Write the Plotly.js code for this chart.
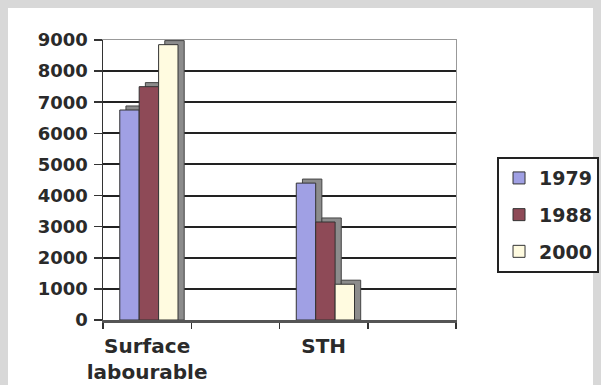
<!DOCTYPE html>
<html>
<head>
<meta charset="utf-8">
<script src="https://cdn.plot.ly/plotly-3.0.1.min.js"></script>
<style>
  html, body { margin: 0; padding: 0; width: 601px; height: 385px; background: #d8d8d8; overflow: hidden; }
  #sheet { position: absolute; left: 8px; top: 8px; width: 585px; height: 377px; background: #ffffff; }
  #chart { position: absolute; left: 0; top: 0; width: 601px; height: 385px; }
</style>
</head>
<body>
<div id="sheet"></div>
<div id="chart"></div>
<script>
// ---- data ----
const categories = ["Surface<br>labourable", " ", "STH", "  "];
const seriesNames = ["1979", "1988", "2000"];
const values1979 = [6750, null, 4400, null];
const values1988 = [7500, null, 3150, null];
const values2000 = [8850, null, 1150, null];
const yTickValues = [0, 1000, 2000, 3000, 4000, 5000, 6000, 7000, 8000, 9000];

// ---- style ----
const colors = ["#a0a0e4", "#8e4a57", "#fffbe0"];
const offsets = [-0.31, -0.09, 0.13];
const barWidth = 0.22;
const depthX = 0.07, depthY = 130;
const font = "DejaVu Sans, Arial, sans-serif";
const ink = "#2a2a2a";
const yMax = yTickValues[yTickValues.length - 1];

const seriesValues = [values1979, values1988, values2000];

const shadows = seriesValues.map((vals, i) => ({
  type: "bar",
  x: categories,
  y: vals.map(v => v === null ? null : v + depthY),
  offset: offsets[i] + depthX,
  width: barWidth,
  marker: { color: "#8c8c8c", line: { color: "#444", width: 1 } },
  showlegend: false,
  hoverinfo: "skip"
}));

const fronts = seriesValues.map((vals, i) => ({
  type: "bar",
  name: seriesNames[i],
  x: categories,
  y: vals,
  offset: offsets[i],
  width: barWidth,
  legendgroup: "g" + i,
  marker: { color: colors[i], line: { color: "#333", width: 1 } }
}));

// invisible trace on secondary axes (inner gridlines + thin wall borders)
const wall = {
  type: "scatter", x: [0], y: [0], xaxis: "x2", yaxis: "y2",
  mode: "markers", marker: { opacity: 0 }, showlegend: false, hoverinfo: "skip"
};

const layout = {
  width: 601, height: 385,
  margin: { l: 103, r: 145, t: 40, b: 65 },
  paper_bgcolor: "rgba(0,0,0,0)",
  plot_bgcolor: "rgba(0,0,0,0)",
  barmode: "overlay",
  font: { family: font, color: ink, size: 18, weight: "bold" },
  xaxis: {
    type: "category",
    categoryorder: "array",
    categoryarray: categories,
    range: [-0.5, categories.length - 0.5],
    tickson: "boundaries",
    tickangle: 0,
    ticks: "outside", ticklen: 6, tickwidth: 1.5, tickcolor: "#333",
    showline: true, linecolor: "#555", linewidth: 3,
    showgrid: false,
    ticklabelstandoff: 6,
    tickfont: { family: font, size: 20, color: ink, weight: "bold" }
  },
  yaxis: {
    range: [0, yMax],
    tickvals: yTickValues,
    ticks: "outside", ticklen: 8, tickwidth: 1.5, tickcolor: "#333",
    showline: true, linecolor: "#333", linewidth: 1.5,
    showgrid: false,
    zeroline: false,
    ticklabelstandoff: 2,
    tickfont: { family: font, size: 18, color: ink, weight: "bold" }
  },
  xaxis2: { overlaying: "x", side: "top", showline: true, linecolor: "#999", linewidth: 1,
            showticklabels: false, ticks: "", showgrid: false, zeroline: false, range: [0, 1] },
  yaxis2: { overlaying: "y", side: "right", showline: true, linecolor: "#999", linewidth: 1,
            range: [0, yMax],
            tickvals: yTickValues.filter(v => v > 0 && v < yMax),
            showticklabels: false, ticks: "",
            showgrid: true, gridcolor: "#222", gridwidth: 2, zeroline: false },
  legend: {
    xref: "container", yref: "container",
    x: 0.9967, xanchor: "right",
    y: 0.592, yanchor: "top",
    bgcolor: "#ffffff",
    bordercolor: "#222", borderwidth: 2,
    traceorder: "grouped",
    tracegroupgap: 9,
    font: { family: font, size: 19, color: ink, weight: "bold" }
  },
  showlegend: true
};

Plotly.newPlot("chart", [...shadows, ...fronts, wall], layout, { displayModeBar: false, staticPlot: true });
</script>
</body>
</html>
